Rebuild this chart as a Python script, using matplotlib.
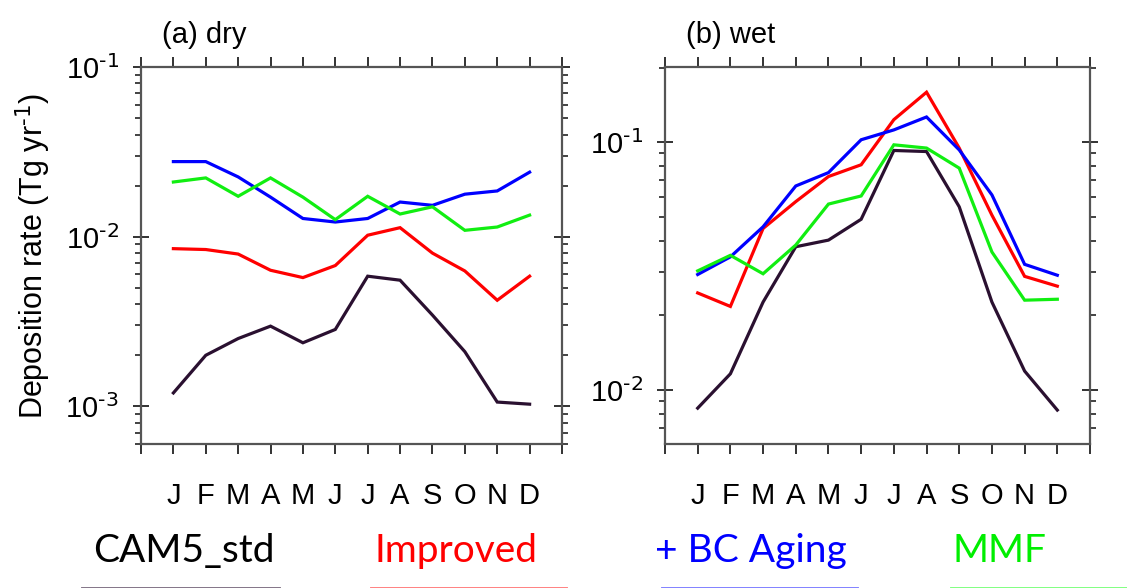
import math
import matplotlib
matplotlib.use("Agg")
import matplotlib.pyplot as plt
from matplotlib.lines import Line2D
from matplotlib.ticker import FixedLocator, FixedFormatter, LogLocator, NullFormatter

plt.rcParams['font.family'] = ['Liberation Sans', 'DejaVu Sans']

months = ['J', 'F', 'M', 'A', 'M', 'J', 'J', 'A', 'S', 'O', 'N', 'D']
x = list(range(1, 13))

series_names = ['CAM5_std', 'Improved', '+ BC Aging', 'MMF']
line_colors = ['#2a1030', '#ff0000', '#0000ff', '#11ee11']
text_colors = ['#000000', '#ff0000', '#0000ff', '#00ee00']
legend_line_colors = ['#7d6e82', '#ff7b7b', '#7b7bff', '#7bff7b']

# (a) dry deposition (Tg/yr)
dry_cam5 = [0.00120, 0.00200, 0.00251, 0.00297, 0.00237, 0.00284,
            0.00585, 0.00554, 0.00345, 0.00210, 0.00106, 0.00103]
dry_improved = [0.0085, 0.0084, 0.0079, 0.00634, 0.00574, 0.00676,
                0.0102, 0.0113, 0.0080, 0.00628, 0.00422, 0.00585]
dry_bcaging = [0.0277, 0.0277, 0.0225, 0.0171, 0.0128, 0.0122,
               0.0128, 0.0160, 0.0153, 0.0178, 0.0186, 0.0240]
dry_mmf = [0.0210, 0.0222, 0.0173, 0.0222, 0.0171, 0.0126,
           0.0173, 0.0136, 0.0150, 0.0109, 0.0114, 0.0134]

# (b) wet deposition (Tg/yr)
wet_cam5 = [0.00843, 0.0116, 0.0226, 0.0378, 0.0402, 0.0488,
            0.0925, 0.0916, 0.0548, 0.0226, 0.0119, 0.00828]
wet_improved = [0.0246, 0.0217, 0.0448, 0.0575, 0.0726, 0.0810,
                0.1232, 0.1590, 0.0946, 0.0507, 0.0287, 0.0262]
wet_bcaging = [0.0292, 0.0344, 0.0455, 0.0665, 0.0753, 0.1022,
               0.1120, 0.1263, 0.0930, 0.0612, 0.0321, 0.0290]
wet_mmf = [0.0302, 0.0349, 0.0294, 0.0384, 0.0562, 0.0606,
           0.0975, 0.0946, 0.0785, 0.0360, 0.0230, 0.0232]

dry = [dry_cam5, dry_improved, dry_bcaging, dry_mmf]
wet = [wet_cam5, wet_improved, wet_bcaging, wet_mmf]

fig = plt.figure(figsize=(11.27, 5.88), dpi=100)
H = 588.0
W = 1127.0
top, bottom = 67, 444
ax_a = fig.add_axes([141 / W, 1 - bottom / H, (562 - 141) / W, (bottom - top) / H])
ax_b = fig.add_axes([665 / W, 1 - bottom / H, (1090 - 665) / W, (bottom - top) / H])

spine_col = '#555555'


def exp_label(v):
    e = round(math.log10(v))
    return '$\\mathdefault{10^{\\text{%d}}}$' % e


def style(ax, data, ylim, major, title):
    for vals, c in zip(data, line_colors):
        ax.plot(x, vals, color=c, lw=2.3, solid_joinstyle='miter')
    ax.set_yscale('log')
    ax.set_ylim(*ylim)
    ax.set_xlim(0, 13)
    ax.xaxis.set_major_locator(FixedLocator(list(range(0, 14))))
    ax.xaxis.set_major_formatter(FixedFormatter([''] + months + ['']))
    ax.yaxis.set_major_locator(FixedLocator(major))
    ax.yaxis.set_major_formatter(FixedFormatter([exp_label(m) for m in major]))
    ax.yaxis.set_minor_locator(LogLocator(base=10, subs=range(2, 10), numticks=20))
    ax.yaxis.set_minor_formatter(NullFormatter())
    ax.tick_params(axis='x', which='major', direction='out', length=7, width=1.3,
                   top=True, bottom=True, labelsize=21, pad=20, color='#222222')
    ax.tick_params(axis='y', which='major', direction='inout', length=12, width=1.3,
                   left=True, right=True, labelsize=21, pad=10, color='#222222')
    ax.tick_params(axis='y', which='minor', direction='out', length=4, width=1.2,
                   left=True, right=True, color='#222222')
    for s in ax.spines.values():
        s.set_color(spine_col)
        s.set_linewidth(1.6)
    ax.text(0.05, 1.085, title, transform=ax.transAxes, fontsize=21,
            ha='left', va='center')


style(ax_a, dry, (6.0e-4, 0.1), [1e-3, 1e-2, 1e-1], '(a) dry')
style(ax_b, wet, (0.00604, 0.201), [1e-2, 1e-1], '(b) wet')
ax_a.set_ylabel('Deposition rate (Tg yr$^{\\mathdefault{\\text{-1}}}$)', fontsize=22,
                labelpad=9)

# bottom legend
centers = [184, 456, 751, 1000]
line_spans = [(83, 278), (372, 565), (663, 856), (952, 1145)]
for name, tc, lc, cx, (x0, x1) in zip(series_names, text_colors, legend_line_colors,
                                       centers, line_spans):
    fig.text(cx / W, 1 - 562 / H, name, color=tc, fontsize=28, family='Lato',
             ha='center', va='baseline')
    fig.add_artist(Line2D([x0 / W, x1 / W], [1 - 588.5 / H, 1 - 588.5 / H],
                          color=lc, lw=3.5, transform=fig.transFigure,
                          clip_on=False))

fig.savefig('out.png', dpi=100)
